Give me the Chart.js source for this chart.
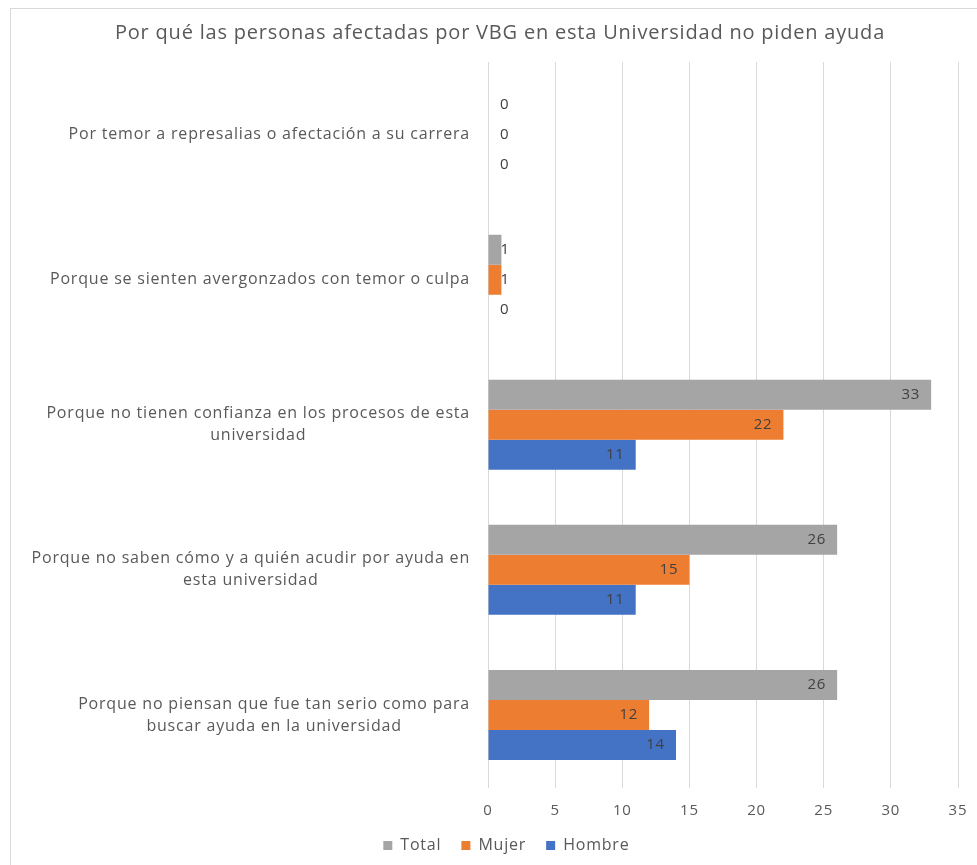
<!DOCTYPE html>
<html>
<head>
<meta charset="utf-8">
<script src="https://cdn.jsdelivr.net/npm/chart.js@4/dist/chart.umd.min.js"></script>
<style>
  html, body { margin: 0; padding: 0; background: #fff; }
  #wrap { position: relative; width: 977px; height: 865px; overflow: hidden; }
  #frame { position: absolute; left: 10px; top: 8px; width: 980px; height: 870px; border: 1px solid #d9d9d9; }
  #chart { position: absolute; left: 0; top: 0; }
</style>
</head>
<body>
<div id="wrap">
  <div id="frame"></div>
  <canvas id="chart" width="990" height="865"></canvas>
</div>
<script>
// categories, top to bottom (each entry = lines of the axis label)
const categories = [
    ["Por temor a represalias o afectación a su carrera"],
    ["Porque se sienten avergonzados con temor o culpa"],
    ["Porque no tienen confianza en los procesos de esta", "universidad"],
    ["Porque no saben cómo y a quién acudir por ayuda en", "esta universidad"],
    ["Porque no piensan que fue tan serio como para", "buscar ayuda en la universidad"]
];
const totalValues = [0, 1, 33, 26, 26];
const mujerValues = [0, 1, 22, 15, 12];
const hombreValues = [0, 0, 11, 11, 14];
const xMax = 35;
const xStep = 5;

const FONT = "'Open Sans', sans-serif";
const TEXT_COLOR = '#595959';

// Excel renders the text a bit wider, so space the letters out
const spacing = {
    id: 'spacing',
    beforeInit(chart) { chart.ctx.letterSpacing = '0.8px'; },
    beforeDraw(chart) { chart.ctx.letterSpacing = '0.8px'; }
};

/* draws the category labels: block right aligned, lines centered */
const categoryLabels = {
    id: 'categoryLabels',
    afterDraw(chart) {
        const ctx = chart.ctx;
        const yScale = chart.scales.y;
        const right = chart.chartArea.left - 18;
        const lineHeight = 22;
        ctx.save();
        ctx.font = '16px ' + FONT;
        ctx.fillStyle = TEXT_COLOR;
        ctx.textAlign = 'center';
        ctx.textBaseline = 'middle';
        categories.forEach((lines, i) => {
            const yc = yScale.getPixelForTick(i);
            let w = 0;
            lines.forEach(l => { w = Math.max(w, ctx.measureText(l).width); });
            const cx = right - w / 2;
            const top = yc - (lines.length - 1) * lineHeight / 2;
            lines.forEach((l, j) => ctx.fillText(l, cx, top + j * lineHeight));
        });
        ctx.restore();
    }
};

/* value labels, inside end like Excel */
const valueLabels = {
    id: 'valueLabels',
    afterDatasetsDraw(chart) {
        const ctx = chart.ctx;
        ctx.save();
        ctx.font = '15px ' + FONT;
        ctx.fillStyle = '#404040';
        ctx.textBaseline = 'middle';
        chart.data.datasets.forEach((ds, di) => {
            const meta = chart.getDatasetMeta(di);
            meta.data.forEach((bar, i) => {
                const txt = String(ds.data[i]);
                if (bar.x - bar.base > 30) {
                    ctx.textAlign = 'right';
                    ctx.fillText(txt, bar.x - 11, bar.y);
                } else {
                    ctx.textAlign = 'left';
                    ctx.fillText(txt, bar.base + 12, bar.y);
                }
            });
        });
        ctx.restore();
    }
};

new Chart(document.getElementById('chart'), {
    type: 'bar',
    data: {
        labels: categories,
        datasets: [
            { label: 'Total', data: totalValues, backgroundColor: '#A5A5A5' },
            { label: 'Mujer', data: mujerValues, backgroundColor: '#ED7D31' },
            { label: 'Hombre', data: hombreValues, backgroundColor: '#4472C4' }
        ]
    },
    options: {
        indexAxis: 'y',
        responsive: false,
        animation: false,
        categoryPercentage: 0.62,
        barPercentage: 1,
        layout: { padding: { left: 10, right: 0, top: 0, bottom: 1.5 } },
        scales: {
            x: {
                min: 0,
                max: xMax,
                ticks: { stepSize: xStep, color: TEXT_COLOR, font: { family: FONT, size: 15 }, padding: 14 },
                grid: { color: '#D9D9D9', drawTicks: false },
                border: { display: false },
                afterFit(scale) { scale.height = 30; }
            },
            y: {
                ticks: { display: false },
                grid: { display: false },
                border: { display: false },
                afterFit(scale) { scale.width = 478; }
            },
            // empty space on the right of the plot
            yRight: {
                type: 'category',
                position: 'right',
                ticks: { display: false },
                grid: { display: false },
                border: { display: false },
                afterFit(scale) { scale.width = 32; }
            }
        },
        plugins: {
            title: {
                display: true,
                text: 'Por qué las personas afectadas por VBG en esta Universidad no piden ayuda',
                color: TEXT_COLOR,
                font: { family: FONT, size: 20, weight: 'normal' },
                padding: { top: 21, bottom: 17 }
            },
            legend: {
                position: 'bottom',
                labels: {
                    color: TEXT_COLOR,
                    font: { family: FONT, size: 16 },
                    boxWidth: 9,
                    boxHeight: 9,
                    padding: 20
                }
            },
            tooltip: { enabled: false }
        }
    },
    plugins: [spacing, categoryLabels, valueLabels]
});
</script>
</body>
</html>
